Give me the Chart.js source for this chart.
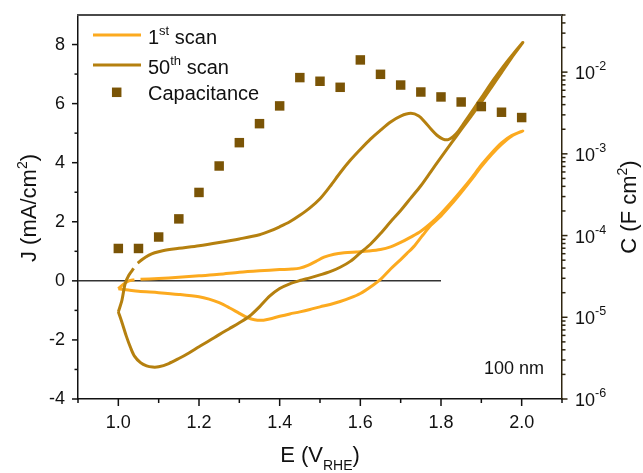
<!DOCTYPE html>
<html>
<head>
<meta charset="utf-8">
<script src="https://cdn.jsdelivr.net/npm/chart.js@4/dist/chart.umd.min.js"></script>
<style>
html,body{margin:0;padding:0;background:#fff;}
#wrap{width:643px;height:473px;position:relative;}
</style>
</head>
<body>
<div id="wrap"><canvas id="c" width="643" height="473"></canvas></div>
<script>
// ---------- data ----------
const xMajorTicks = [1.0, 1.2, 1.4, 1.6, 1.8, 2.0];
const xMinorTicks = [0.9, 1.1, 1.3, 1.5, 1.7, 1.9, 2.1];
const yMajorTicks = [-4, -2, 0, 2, 4, 6, 8];
const yMinorTicks = [-3, -1, 1, 3, 5, 7];
const cMajorTicks = [1e-6, 1e-5, 1e-4, 1e-3, 1e-2];
const cMajorExp = ['-6', '-5', '-4', '-3', '-2'];
const cMinorMult = [2, 3, 4, 5, 6, 7, 8, 9];

// 1st scan (E in V_RHE, J in mA/cm2); null = break in trace
const scan1E = [1.000, 1.012, 1.026, 1.040, 1.047, 1.055, 1.100, 1.150, 1.200, 1.250, 1.300, 1.350, 1.400, 1.430, 1.450, 1.470, 1.490, 1.510, 1.535, 1.560, 1.590, 1.620, 1.650, 1.675, 1.700, 1.725, 1.750, 1.775, 1.800, 1.825, 1.850, 1.875, 1.900, 1.925, 1.950, 1.975, 2.003,
                1.975, 1.950, 1.925, 1.900, 1.875, 1.850, 1.825, 1.800, 1.775, 1.755, 1.735, 1.715, 1.700, 1.675, 1.650, 1.625, 1.600, 1.575, 1.550, 1.525, 1.500, 1.475, 1.450, 1.425, 1.400, 1.375, 1.360, 1.345, 1.330, 1.315, 1.300, 1.275, 1.250, 1.225, 1.200, 1.150, 1.100, 1.050, 1.025, 1.000];
const scan1J = [-0.27, -0.12, 0.00, 0.04, null, 0.05, 0.08, 0.12, 0.17, 0.22, 0.29, 0.34, 0.38, 0.40, 0.43, 0.52, 0.66, 0.80, 0.90, 0.95, 0.98, 1.01, 1.06, 1.15, 1.30, 1.48, 1.68, 1.95, 2.28, 2.65, 3.05, 3.47, 3.92, 4.32, 4.67, 4.92, 5.07,
                4.90, 4.62, 4.27, 3.87, 3.42, 2.99, 2.58, 2.20, 1.88, 1.55, 1.20, 0.92, 0.72, 0.40, 0.05, -0.21, -0.43, -0.58, -0.70, -0.80, -0.88, -0.97, -1.05, -1.12, -1.20, -1.29, -1.33, -1.33, -1.29, -1.21, -1.10, -0.91, -0.74, -0.62, -0.54, -0.46, -0.40, -0.35, -0.31, -0.27];

// 50th scan
const scan50E = [1.000, 1.009, 1.017, 1.026, 1.038, 1.043, 1.048, 1.060, 1.075, 1.090, 1.110, 1.150, 1.200, 1.250, 1.300, 1.350, 1.375, 1.400, 1.425, 1.450, 1.475, 1.500, 1.525, 1.550, 1.575, 1.600, 1.625, 1.650, 1.675, 1.700, 1.725, 1.745, 1.760, 1.775, 1.790, 1.805, 1.818, 1.830, 1.843, 1.856, 1.880, 1.905, 1.930, 1.955, 1.980, 2.003,
                 1.975, 1.950, 1.925, 1.900, 1.875, 1.850, 1.825, 1.800, 1.775, 1.750, 1.725, 1.700, 1.675, 1.650, 1.625, 1.600, 1.575, 1.550, 1.525, 1.500, 1.475, 1.450, 1.425, 1.400, 1.375, 1.350, 1.325, 1.300, 1.275, 1.250, 1.225, 1.200, 1.175, 1.150, 1.125, 1.100, 1.085, 1.070, 1.055, 1.040, 1.030, 1.020, 1.010, 1.000];
const scan50J = [-1.05, -0.65, -0.09, 0.19, 0.42, null, 0.60, 0.73, 0.86, 0.95, 1.02, 1.10, 1.19, 1.30, 1.42, 1.56, 1.68, 1.83, 2.00, 2.22, 2.47, 2.78, 3.20, 3.66, 4.08, 4.45, 4.80, 5.10, 5.38, 5.58, 5.67, 5.58, 5.38, 5.14, 4.93, 4.80, 4.78, 4.88, 5.07, 5.32, 5.80, 6.30, 6.80, 7.27, 7.70, 8.07,
                 7.55, 7.05, 6.55, 6.05, 5.58, 5.12, 4.65, 4.18, 3.70, 3.22, 2.80, 2.38, 2.00, 1.60, 1.24, 0.95, 0.66, 0.46, 0.31, 0.20, 0.10, 0.01, -0.10, -0.26, -0.52, -0.88, -1.20, -1.42, -1.62, -1.82, -2.03, -2.23, -2.44, -2.63, -2.80, -2.91, -2.92, -2.88, -2.77, -2.55, -2.25, -1.88, -1.45, -1.05];

// capacitance (F cm^-2) vs E
const capE = [1.00, 1.05, 1.10, 1.15, 1.20, 1.25, 1.30, 1.35, 1.40, 1.45, 1.50, 1.55, 1.60, 1.65, 1.70, 1.75, 1.80, 1.85, 1.90, 1.95, 2.00];
const capC = [6.95e-5, 6.95e-5, 9.6e-5, 1.6e-4, 3.37e-4, 7.1e-4, 1.37e-3, 2.34e-3, 3.86e-3, 8.57e-3, 7.73e-3, 6.52e-3, 1.41e-2, 9.4e-3, 6.95e-3, 5.71e-3, 4.97e-3, 4.31e-3, 3.79e-3, 3.23e-3, 2.78e-3];

// horizontal zero reference line
const zeroLineE = [0.9, 1.8];
const zeroLineJ = [0, 0];

// ---------- styles ----------
const C1 = '#FCAA1F';
const C50 = '#B5800F';
const CCAP = '#7A5406';
const FONT = '"Liberation Sans", Arial, Helvetica, sans-serif';

const toXY = (xs, ys) => xs.map((x, i) => ({x: x, y: ys[i]}));

const decor = {
  id: 'decor',
  afterDraw(chart) {
    const ctx = chart.ctx;
    const {left, right, top, bottom} = chart.chartArea;
    const xs = chart.scales.x, ys = chart.scales.y, y2 = chart.scales.y2;
    ctx.save();
    // top frame
    ctx.strokeStyle = '#4a4a4a'; ctx.lineWidth = 2;
    ctx.beginPath(); ctx.moveTo(left - 1, top); ctx.lineTo(right + 1, top); ctx.stroke();
    // ticks
    const seg = (x1, y1, x2, y2_) => { ctx.beginPath(); ctx.moveTo(x1, y1); ctx.lineTo(x2, y2_); ctx.stroke(); };
    ctx.strokeStyle = '#111'; ctx.lineWidth = 1.5;
    xMajorTicks.forEach(v => { const p = xs.getPixelForValue(v); seg(p, bottom, p, bottom + 7); });
    xMinorTicks.forEach(v => { const p = xs.getPixelForValue(v); seg(p, bottom, p, bottom + 4); });
    yMajorTicks.forEach(v => { const p = ys.getPixelForValue(v); seg(left, p, left - 6, p); });
    yMinorTicks.forEach(v => { const p = ys.getPixelForValue(v); seg(left, p, left - 3.5, p); });
    ctx.strokeStyle = '#2e2510';
    cMajorTicks.forEach(v => { const p = y2.getPixelForValue(v); seg(right, p, right + 5.5, p); });
    cMajorTicks.forEach(d => {
      cMinorMult.forEach(m => {
        const v = d * m;
        if (v <= y2.max) { const p = y2.getPixelForValue(v); seg(right, p, right + 3.5, p); }
      });
    });
    // right tick labels 10^n
    ctx.fillStyle = '#111';
    ctx.textBaseline = 'alphabetic';
    ctx.textAlign = 'left';
    cMajorTicks.forEach((v, i) => {
      const p = y2.getPixelForValue(v);
      ctx.font = '18px ' + FONT;
      ctx.fillText('10', right + 13, p + 7);
      const w = ctx.measureText('10').width;
      ctx.font = '12.5px ' + FONT;
      ctx.fillText(cMajorExp[i], right + 13 + w, p - 2);
    });
    // x title: E (V_RHE)
    ctx.font = '22px ' + FONT;
    const t1 = 'E (V', t3 = ')';
    const w1 = ctx.measureText(t1).width, w3 = ctx.measureText(t3).width;
    ctx.font = '14px ' + FONT;
    const w2 = ctx.measureText('RHE').width;
    let x0 = (left + right) / 2 - (w1 + w2 + w3) / 2;
    ctx.font = '22px ' + FONT;
    ctx.fillText(t1, x0, 462);
    ctx.font = '14px ' + FONT;
    ctx.fillText('RHE', x0 + w1, 470);
    ctx.font = '22px ' + FONT;
    ctx.fillText(t3, x0 + w1 + w2, 462);
    // rotated titles
    const drawRot = (cx, cy, angle, parts) => {
      ctx.save();
      ctx.translate(cx, cy);
      ctx.rotate(angle);
      let total = 0;
      parts.forEach(pt => { ctx.font = pt.size + 'px ' + FONT; pt.w = ctx.measureText(pt.t).width; total += pt.w; });
      let xx = -total / 2;
      parts.forEach(pt => { ctx.font = pt.size + 'px ' + FONT; ctx.fillText(pt.t, xx, pt.dy); xx += pt.w; });
      ctx.restore();
    };
    drawRot(36, 208, -Math.PI / 2, [
      {t: 'J (mA/cm', size: 22, dy: 0},
      {t: '2', size: 14, dy: -9},
      {t: ')', size: 22, dy: 0}
    ]);
    drawRot(636, 207, -Math.PI / 2, [
      {t: 'C (F cm', size: 22, dy: 0},
      {t: '2', size: 14, dy: -9},
      {t: ')', size: 22, dy: 0}
    ]);
    // legend
    const legend = [
      {type: 'line', color: C1, y: 35, base: 43.5, parts: [['1', 20, 0], ['st', 13, -9], [' scan', 20, 0]]},
      {type: 'line', color: C50, y: 65, base: 73.5, parts: [['50', 20, 0], ['th', 13, -9], [' scan', 20, 0]]},
      {type: 'rect', color: CCAP, y: 92.3, base: 100, parts: [['Capacitance', 20, 0]]}
    ];
    legend.forEach(it => {
      if (it.type === 'line') {
        ctx.strokeStyle = it.color; ctx.lineWidth = 3;
        seg(93, it.y, 141, it.y);
      } else {
        ctx.fillStyle = it.color;
        ctx.fillRect(116.7 - 4.75, it.y - 4.75, 9.5, 9.5);
      }
      ctx.fillStyle = '#111';
      let xx = 148;
      it.parts.forEach(p => {
        ctx.font = p[1] + 'px ' + FONT;
        ctx.fillText(p[0], xx, it.base + p[2]);
        xx += ctx.measureText(p[0]).width;
      });
    });
    // annotation
    ctx.font = '18px ' + FONT;
    ctx.textAlign = 'right';
    ctx.fillText('100 nm', 544, 374);
    ctx.restore();
  }
};

const noPadV = s => { s.paddingTop = 0; s.paddingBottom = 0; };

new Chart(document.getElementById('c'), {
  type: 'scatter',
  data: {
    datasets: [
      {
        label: 'Capacitance',
        data: toXY(capE, capC),
        yAxisID: 'y2',
        pointStyle: 'rect',
        pointRadius: 6.7,
        pointHoverRadius: 6.7,
        backgroundColor: CCAP,
        borderColor: CCAP,
        borderWidth: 0,
        showLine: false
      },
      {
        label: '50th scan',
        data: toXY(scan50E, scan50J),
        yAxisID: 'y',
        showLine: true,
        borderColor: C50,
        backgroundColor: C50,
        borderWidth: 3,
        pointRadius: 0,
        tension: 0.3,
        spanGaps: false
      },
      {
        label: '1st scan',
        data: toXY(scan1E, scan1J),
        yAxisID: 'y',
        showLine: true,
        borderColor: C1,
        backgroundColor: C1,
        borderWidth: 3,
        pointRadius: 0,
        tension: 0.3,
        spanGaps: false
      },
      {
        label: 'zero',
        data: toXY(zeroLineE, zeroLineJ),
        yAxisID: 'y',
        showLine: true,
        borderColor: '#333',
        borderWidth: 1.5,
        pointRadius: 0,
        tension: 0
      }
    ]
  },
  options: {
    responsive: false,
    animation: false,
    events: [],
    layout: {padding: {top: 15, left: 0, right: 0, bottom: 0}},
    plugins: {legend: {display: false}, tooltip: {enabled: false}},
    scales: {
      x: {
        type: 'linear', min: 0.9, max: 2.1,
        afterBuildTicks: s => { s.ticks = xMajorTicks.map(v => ({value: v})); },
        afterFit: s => { s.height = 74; s.paddingLeft = 0; s.paddingRight = 0; },
        grid: {drawOnChartArea: false, drawTicks: false},
        border: {display: true, color: '#111', width: 1.5},
        ticks: {padding: 13, color: '#111', font: {family: FONT, size: 18}, callback: v => Number(v).toFixed(1), maxRotation: 0, autoSkip: false}
      },
      y: {
        type: 'linear', position: 'left', min: -4, max: 9,
        afterBuildTicks: s => { s.ticks = yMajorTicks.map(v => ({value: v})); },
        afterFit: s => { s.width = 78; noPadV(s); },
        grid: {drawOnChartArea: false, drawTicks: false},
        border: {display: true, color: '#111', width: 1.5},
        ticks: {padding: 13, color: '#111', font: {family: FONT, size: 18}, callback: v => String(v), autoSkip: false}
      },
      y2: {
        type: 'logarithmic', position: 'right', min: 1e-6, max: 0.05,
        afterBuildTicks: s => { s.ticks = cMajorTicks.map(v => ({value: v})); },
        afterFit: s => { s.width = 81; noPadV(s); },
        grid: {drawOnChartArea: false, drawTicks: false},
        border: {display: true, color: '#2e2510', width: 1.5},
        ticks: {display: false}
      }
    }
  },
  plugins: [decor]
});
</script>
</body>
</html>
